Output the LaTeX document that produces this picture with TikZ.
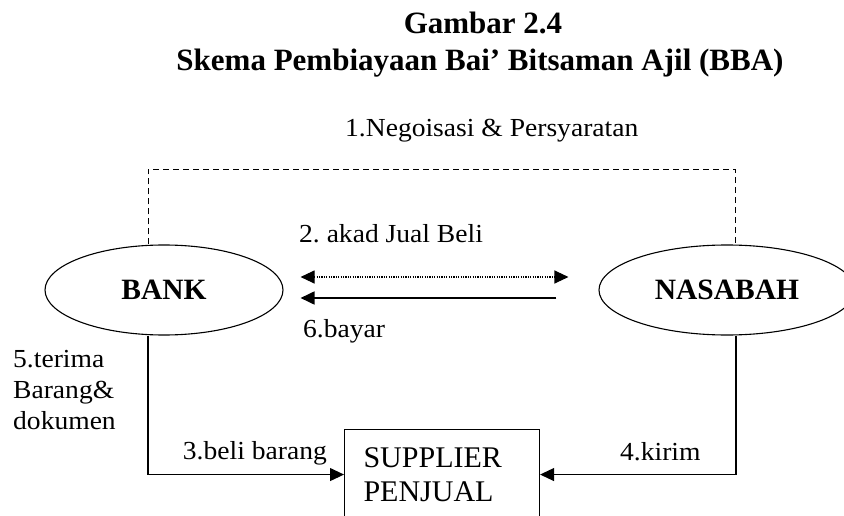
\documentclass[tikz,border=0pt]{standalone}
\usepackage{fontspec}
\setmainfont{Liberation Serif}
\newfontfamily\ketfont[FakeStretch=1.06]{Liberation Serif}
\usetikzlibrary{arrows.meta}
\usetikzlibrary{shapes.geometric}

\tikzset{
  lbl/.style={inner sep=0pt, font=\ketfont\fontsize{26pt}{31pt}\selectfont},
  judul/.style={inner sep=0pt, anchor=base, font=\bfseries\fontsize{31pt}{37pt}\selectfont},
  pelaku/.style={draw, ellipse, line width=1.1pt, inner sep=0pt, minimum height=90pt, font=\bfseries\fontsize{29.5pt}{34pt}\selectfont},
  kotak/.style={draw, line width=1.1pt, inner xsep=19pt, inner ysep=0pt, align=left, font=\fontsize{30pt}{34pt}\selectfont},
  panah/.style={-{Triangle[length=14pt,width=13pt]}, line width=1.1pt},
}

\begin{document}
\begin{tikzpicture}[x=1pt,y=-1pt]
\useasboundingbox (0,0) rectangle (844,516);
\clip (0,0) rectangle (844,516);

% judul gambar
\node[judul] (judul1) at (483,34) {Gambar 2.4};
\node[judul] (judul2) at (480,71) {Skema Pembiayaan Bai’ Bitsaman Ajil (BBA)};

% pihak-pihak
\node[pelaku, minimum width=238pt] (bank) at (164,290) {BANK};
\node[pelaku, minimum width=256pt] (nasabah) at (727,290) {NASABAH};
\node[kotak, anchor=north west, text width=157pt, minimum height=90pt] (supplier) at (344,429) {SUPPLIER\\PENJUAL};

% alur
\draw[dash pattern=on 6pt off 4pt, line width=1pt] ([xshift=-16pt]bank.north) -- ++(0,-75) -| ([xshift=8pt]nasabah.north);
\draw[panah, {Triangle[length=14pt,width=13pt]}-{Triangle[length=14pt,width=13pt]}, dash pattern=on 1.2pt off 1.2pt, shorten <=17pt, shorten >=30pt] ([yshift=13pt]bank.east) -- ([yshift=13pt]nasabah.west);
\draw[panah, line width=1.8pt, shorten <=42pt, shorten >=17pt] ([yshift=-8pt]nasabah.west) -- ([yshift=-8pt]bank.east);
\draw[panah] ([xshift=-16pt]bank.south) |- (supplier.west);
\draw[panah] ([xshift=9pt]nasabah.south) |- (supplier.east);

% keterangan
\node[lbl, anchor=base west] (negosiasi) at (345,137) {1.Negoisasi \& Persyaratan};
\node[lbl, anchor=base west] (akad) at (299,242) {2.\ akad Jual Beli};
\node[lbl, anchor=base west] (bayar) at (303,337) {6.bayar};
\node[lbl, anchor=north west, align=left] (terima) at (13,350) {5.terima\\Barang\&\\dokumen};
\node[lbl, anchor=base east] (beli) at (327,459) {3.beli barang};
\node[lbl, anchor=base west] (kirim) at (620,460) {4.kirim};
\end{tikzpicture}
\end{document}
